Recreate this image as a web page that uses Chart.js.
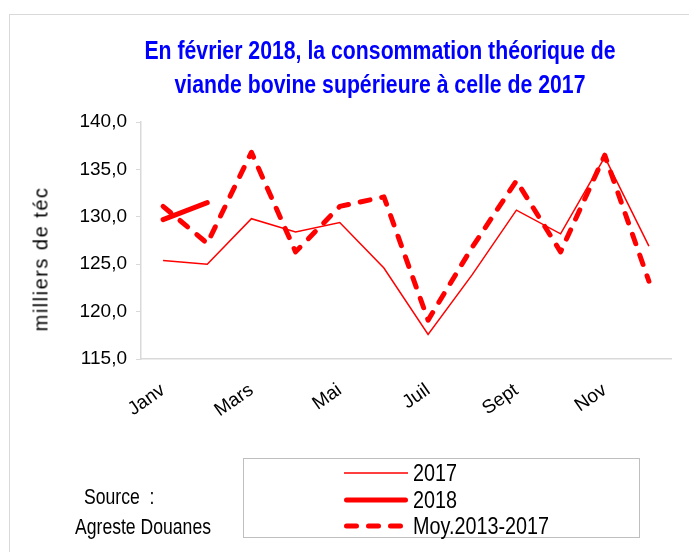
<!DOCTYPE html>
<html>
<head>
<meta charset="utf-8">
<script src="https://cdn.jsdelivr.net/npm/chart.js@4.4.1/dist/chart.umd.min.js"></script>
<style>
  html, body { margin: 0; padding: 0; background: #ffffff; }
  #wrap { position: relative; width: 689px; height: 552px; overflow: hidden; font-family: "Liberation Sans", Arial, sans-serif; }
  #frame { position: absolute; left: 9px; top: 14px; width: 800px; height: 600px; border: 1.5px solid #d9d9d9; box-sizing: border-box; }
  #chart { position: absolute; left: 0; top: 0; }
  .narrow { display: inline-block; transform: scaleX(0.86); transform-origin: 0 50%; white-space: nowrap; }
  #title { position: absolute; left: 0; top: 33px; width: 760px; text-align: center; color: #0000ff; font-weight: bold; font-size: 25px; line-height: 34px; transform: scaleX(0.85); transform-origin: 380px 50%; }
  #ytitle { position: absolute; left: 41px; top: 259px; transform: translate(-50%, -50%) rotate(-90deg); white-space: nowrap; font-size: 20px; letter-spacing: 1.5px; color: #000; }
  #legend { position: absolute; left: 243px; top: 458px; width: 397px; height: 80px; border: 1.5px solid #bfbfbf; box-sizing: border-box; background: #fff; }
  .lrow { position: absolute; left: 98px; height: 26px; display: flex; align-items: center; }
  .lrow svg { width: 68px; height: 12px; flex: none; }
  .lrow span { font-size: 23px; color: #000; margin-left: 3px; line-height: 26px; }
  .src { position: absolute; font-size: 22px; color: #000; line-height: 26px; transform: scaleX(0.8); }
</style>
</head>
<body>
<div id="wrap">
  <div id="frame"></div>
  <canvas id="chart" width="689" height="552"></canvas>
  <div id="title">En février 2018, la consommation théorique de<br>viande bovine supérieure à celle de 2017</div>
  <div id="ytitle">milliers de téc</div>
  <div class="src narrow" style="left:84px; top:484px;">Source &nbsp;:</div>
  <div class="src narrow" style="left:75px; top:514px;">Agreste Douanes</div>
  <div id="legend"></div>
</div>
<script>
// ---- data ----
const months = ['Janv', 'Févr', 'Mars', 'Avr', 'Mai', 'Juin', 'Juil', 'Août', 'Sept', 'Oct', 'Nov', 'Déc'];
const shownMonths = ['Janv', 'Mars', 'Mai', 'Juil', 'Sept', 'Nov'];
const values2017 = [125.4, 125.0, 129.8, 128.4, 129.4, 124.6, 117.6, 123.9, 130.7, 128.2, 136.3, 126.9];
const values2018 = [129.7, 131.5, null, null, null, null, null, null, null, null, null, null];
const valuesMoy = [131.1, 127.2, 136.8, 126.3, 131.1, 132.1, 119.1, 126.8, 133.8, 126.3, 136.5, 123.2];
const seriesNames = ['2017', '2018', 'Moy.2013-2017'];
const yMin = 115, yMax = 140, yStep = 5;

const RED = '#ff0000';
const tickFont = { family: 'Liberation Sans, Arial, sans-serif', size: 19 };

const chart = new Chart(document.getElementById('chart'), {
  type: 'line',
  data: {
    labels: months,
    datasets: [
      { label: seriesNames[0], data: values2017, borderColor: RED, backgroundColor: RED, borderWidth: 1.5, pointRadius: 0, tension: 0 },
      { label: seriesNames[1], data: values2018, borderColor: RED, backgroundColor: RED, borderWidth: 5, borderCapStyle: 'round', pointRadius: 0, tension: 0, spanGaps: false },
      { label: seriesNames[2], data: valuesMoy, borderColor: RED, backgroundColor: RED, borderWidth: 5, borderDash: [10, 12], borderCapStyle: 'round', borderJoinStyle: 'round', pointRadius: 0, tension: 0 }
    ]
  },
  options: {
    responsive: false,
    animation: false,
    devicePixelRatio: 1,
    layout: { padding: { top: 122, right: 18, left: 0, bottom: 0 } },
    plugins: { legend: { display: false }, title: { display: false }, tooltip: { enabled: false } },
    scales: {
      x: {
        offset: true,
        grid: { display: false },
        border: { display: true, color: '#d9d9d9', width: 1.5 },
        ticks: {
          autoSkip: false,
          maxRotation: 35,
          minRotation: 35,
          padding: 12,
          color: '#000',
          font: tickFont,
          callback: function (value) {
            const lab = this.getLabelForValue(value);
            return shownMonths.includes(lab) ? lab : '';
          }
        },
        afterFit: (scale) => { scale.height = 193; }
      },
      y: {
        min: yMin,
        max: yMax,
        grid: { display: true, drawOnChartArea: false, drawTicks: true, tickLength: 5, color: '#d9d9d9' },
        border: { display: true, color: '#d9d9d9', width: 1.5 },
        ticks: {
          stepSize: yStep,
          padding: 9,
          color: '#000',
          font: tickFont,
          callback: (v) => v.toFixed(1).replace('.', ',')
        },
        afterFit: (scale) => { scale.width = 141; }
      }
    }
  }
});

// legend built from the chart's own datasets
const legendEl = document.getElementById('legend');
chart.data.datasets.forEach((ds, i) => {
  const row = document.createElement('div');
  row.className = 'lrow';
  row.style.top = (1 + i * 26.5) + 'px';
  const dash = ds.borderDash ? ds.borderDash.join(' ') : 'none';
  const cap = ds.borderCapStyle || 'butt';
  const inset = cap === 'round' ? ds.borderWidth / 2 : 0;
  row.innerHTML =
    '<svg viewBox="0 0 68 12"><line x1="' + (2 + inset) + '" y1="6" x2="' + (66 - inset) + '" y2="6" stroke="' + ds.borderColor +
    '" stroke-width="' + ds.borderWidth + '" stroke-dasharray="' + dash + '" stroke-linecap="' + cap + '"/></svg>' +
    '<span class="narrow">' + ds.label + '</span>';
  legendEl.appendChild(row);
});
</script>
</body>
</html>
